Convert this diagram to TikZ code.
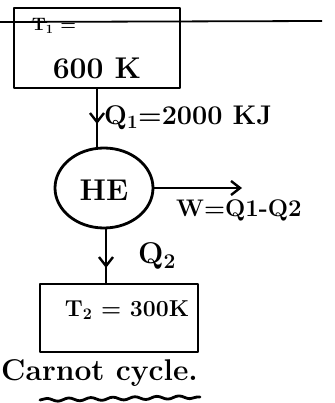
\documentclass[tikz,border=0pt]{standalone}
\usepackage{fontspec}
\setmainfont{Latin Modern Roman}
\usetikzlibrary{arrows.meta,decorations.pathmorphing,shapes.geometric}
\begin{document}
\begin{tikzpicture}[x=1pt,y=-1pt,
  ink/.style={line width=2.8pt,line cap=round,line join=round},
  flow/.style={ink,-{Straight Barb[length=9pt,width=14pt,line width=2.4pt]}},
  lbl/.style={font=\bfseries\fontsize{26}{28}\selectfont,inner sep=0pt}]
\useasboundingbox (0,0) rectangle (334,403);
% reservoirs
\node[ink,draw,minimum width=166pt,minimum height=80pt,inner sep=0pt] (hot) at (97,48) {};
\node[lbl] (t1) at (54,26) {\fontsize{18}{20}\selectfont T$_\mathbf{1}$ =};
\node[lbl] (t600) at (97,68) {\fontsize{30}{32}\selectfont 600 K};
\coordinate (lineL) at (0,22);
\coordinate (lineR) at (322,21);
\draw[line width=1.8pt] (lineL) -- (lineR);
% engine
\node[ink,draw,ellipse,minimum width=98pt,minimum height=80pt,inner sep=0pt] (he) at (104,188) {};
\node[lbl] (helbl) at (104,190) {\fontsize{30}{32}\selectfont HE};
% cold
\node[ink,draw,minimum width=158pt,minimum height=68pt,inner sep=0pt] (cold) at (119,318) {};
\node[lbl] (t2) at (127,310) {\fontsize{23}{26}\selectfont T$_\mathbf{2}$ = 300K};
% flows
\coordinate (mid1) at (97,122);
\draw[ink] (hot.south -| mid1) -- (he.north -| mid1);
\draw[flow] (97,100) -- (97,124);
\node[lbl,anchor=west] (q1) at (104,118) {\fontsize{27}{28}\selectfont Q$_\mathbf{1}$=2000 KJ};
\coordinate (wend) at (242,184);
\draw[flow] (he.east) -- (he.east -| wend);
\node[lbl,anchor=west] (w) at (176,210) {\fontsize{24}{26}\selectfont W=Q1-Q2};
\coordinate (mid2) at (106,260);
\draw[ink] (he.south -| mid2) -- (cold.north -| mid2);
\draw[flow] (106,245) -- (106,268);
\node[lbl,anchor=west] (q2) at (138,256) {\fontsize{30}{32}\selectfont Q$_\mathbf{2}$};
% caption
\node[lbl,anchor=west] (cap) at (1,373) {\fontsize{30}{32}\selectfont Carnot cycle.};
\coordinate (u1) at (40,400);
\coordinate (u2) at (200,397);
\draw[ink,decorate,decoration={snake,amplitude=1.5pt,segment length=22pt}] (u1) -- (u2);
\end{tikzpicture}
\end{document}
